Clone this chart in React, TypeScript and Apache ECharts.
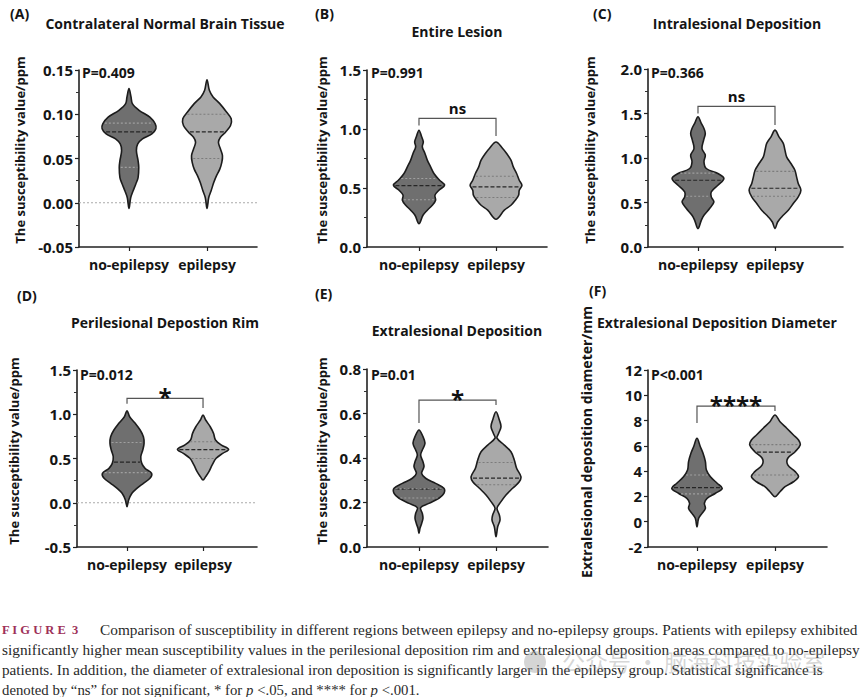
import React, { useEffect, useRef } from "react";
import * as echarts from "echarts";

// ---------- data ----------
const groups = ["no-epilepsy", "epilepsy"];

// violin profiles: [value, relative density] (top tip -> bottom tip)
const aNoEpilepsy = [[0.129, 0], [0.1196, 6], [0.112, 10], [0.1045, 30], [0.0968, 62], [0.0892, 78], [0.0835, 80], [0.0778, 68], [0.0721, 40], [0.0664, 26], [0.0589, 22], [0.0475, 27], [0.0399, 29], [0.0285, 27], [0.0209, 20], [0.0133, 12], [0.0057, 5], [-0.0065, 0]];
const aEpilepsy = [[0.139, 0], [0.1272, 7], [0.1196, 18], [0.112, 38], [0.1025, 58], [0.0949, 72], [0.0873, 70], [0.0797, 55], [0.074, 40], [0.0683, 34], [0.0607, 40], [0.0531, 46], [0.0456, 44], [0.038, 38], [0.0304, 28], [0.0228, 20], [0.0133, 12], [0.0057, 5], [-0.0065, 0]];
const bNoEpilepsy = [[0.99, 0], [0.934, 8], [0.891, 13], [0.849, 10], [0.793, 18], [0.736, 25], [0.679, 35], [0.623, 45], [0.566, 62], [0.524, 77], [0.481, 60], [0.439, 48], [0.396, 50], [0.354, 40], [0.312, 25], [0.269, 12], [0.198, 0]];
const bEpilepsy = [[0.89, 0], [0.835, 20], [0.793, 32], [0.736, 45], [0.679, 52], [0.623, 62], [0.566, 70], [0.524, 78], [0.481, 70], [0.439, 68], [0.396, 58], [0.354, 45], [0.312, 25], [0.235, 0]];
const cNoEpilepsy = [[1.463, 0], [1.389, 10], [1.332, 18], [1.276, 22], [1.201, 17], [1.107, 12], [1.032, 22], [0.957, 18], [0.882, 25], [0.826, 60], [0.77, 78], [0.694, 60], [0.619, 40], [0.563, 40], [0.506, 48], [0.432, 35], [0.357, 18], [0.3, 10], [0.207, 0]];
const cEpilepsy = [[1.313, 0], [1.238, 12], [1.164, 25], [1.088, 30], [1.013, 35], [0.938, 48], [0.863, 60], [0.788, 65], [0.713, 70], [0.638, 78], [0.563, 70], [0.488, 55], [0.413, 40], [0.338, 20], [0.281, 8], [0.207, 0]];
const dNoEpilepsy = [[1.04, 0], [0.972, 8], [0.897, 25], [0.822, 40], [0.746, 50], [0.671, 52], [0.596, 48], [0.52, 42], [0.445, 45], [0.389, 55], [0.333, 75], [0.276, 70], [0.22, 50], [0.163, 30], [0.107, 15], [0.031, 5], [-0.045, 0]];
const dEpilepsy = [[0.99, 0], [0.935, 8], [0.859, 22], [0.784, 32], [0.709, 38], [0.653, 55], [0.603, 78], [0.558, 60], [0.502, 40], [0.427, 28], [0.351, 18], [0.295, 8], [0.257, 0]];
const eNoEpilepsy = [[0.526, 0], [0.496, 12], [0.466, 18], [0.436, 10], [0.413, 5], [0.383, 12], [0.361, 15], [0.331, 8], [0.309, 20], [0.286, 50], [0.264, 75], [0.241, 75], [0.219, 60], [0.196, 30], [0.177, 5], [0.151, 10], [0.129, 12], [0.106, 8], [0.084, 3], [0.061, 0]];
const eEpilepsy = [[0.608, 0], [0.571, 10], [0.541, 15], [0.511, 8], [0.489, 3], [0.458, 25], [0.428, 45], [0.391, 55], [0.354, 62], [0.316, 75], [0.293, 70], [0.264, 50], [0.234, 30], [0.204, 15], [0.174, 3], [0.144, 10], [0.121, 12], [0.091, 5], [0.046, 0]];
const fNoEpilepsy = [[6.6, 0], [5.93, 10], [5.41, 18], [4.75, 25], [4.09, 28], [3.56, 40], [3.04, 60], [2.64, 75], [2.25, 55], [1.85, 30], [1.46, 22], [1.06, 25], [0.66, 15], [0.27, 5], [-0.4, 0]];
const fEpilepsy = [[8.44, 0], [7.91, 15], [7.39, 35], [6.86, 55], [6.46, 70], [6.07, 75], [5.54, 60], [5.02, 38], [4.49, 38], [3.96, 60], [3.56, 70], [3.16, 55], [2.77, 30], [2.37, 15], [1.98, 0]];

// quartiles [Q1, median, Q3]
const aQuartiles = [[0.04, 0.08, 0.09], [0.05, 0.08, 0.1]];
const bQuartiles = [[0.4, 0.52, 0.58], [0.42, 0.51, 0.6]];
const cQuartiles = [[0.57, 0.75, 0.83], [0.57, 0.66, 0.85]];
const dQuartiles = [[0.34, 0.46, 0.68], [0.5, 0.6, 0.69]];
const eQuartiles = [[0.22, 0.26, 0.262], [0.28, 0.31, 0.38]];
const fQuartiles = [[2.2, 2.7, 3.7], [3.7, 5.5, 6.1]];

// significance brackets [top, left leg end, right leg end]
const bBracket = [1.09, 1.03, 0.94];
const cBracket = [1.58, 1.5, 1.37];
const dBracket = [1.18, 1.12, 1.07];
const eBracket = [0.66, 0.557, 0.638];
const fBracket = [9.15, 7.8, 8.76];

// y axis ranges [min, max, interval]
const aYAxis = [-0.05, 0.15, 0.05];
const bYAxis = [0, 1.5, 0.5];
const cYAxis = [0, 2.0, 0.5];
const dYAxis = [-0.5, 1.5, 0.5];
const eYAxis = [0, 0.8, 0.2];
const fYAxis = [-2, 12, 2];

const panelTitles = [
  "Contralateral Normal Brain Tissue",
  "Entire Lesion",
  "Intralesional Deposition",
  "Perilesional Depostion Rim",
  "Extralesional Deposition",
  "Extralesional Deposition Diameter",
];
const panelLetters = ["(A)", "(B)", "(C)", "(D)", "(E)", "(F)"];
const pValues = ["P=0.409", "P=0.991", "P=0.366", "P=0.012", "P=0.01", "P<0.001"];
const significance = ["", "ns", "ns", "*", "*", "****"];
const yNames = [
  "The susceptibility value/ppm",
  "The susceptibility value/ppm",
  "The susceptibility value/ppm",
  "The susceptibility value/ppm",
  "The susceptibility value/ppm",
  "Extralesional deposition diameter/mm",
];

const captionLabel = "F I G U R E\u00a0\u00a03";
const captionLines = [
  "Comparison of susceptibility in different regions between epilepsy and no-epilepsy groups. Patients with epilepsy exhibited",
  "significantly higher mean susceptibility values in the perilesional deposition rim and extralesional deposition areas compared to no-epilepsy",
  "patients. In addition, the diameter of extralesional iron deposition is significantly larger in the epilepsy group. Statistical significance is",
  "denoted by \u201cns\u201d for not significant, * for {i|p} <.05, and **** for {i|p} <.001.",
];
const watermarkText = "公众号 · 脑海科技实验室";

// ---------- layout / style ----------
const FONT = '"Open Sans"';
const FILLS = ["#6f6f6f", "#a9a9a9"];
const QLINE = ["#a0a0a0", "#7c7c7c"];
const DENSITY_FULL = 80;
const HALF_WIDTH_FRAC = 0.345;
const CAPTION_X = [100, 2, 2, 2];
const CAPTION_SCALE = [1.022, 1.022, 1.014, 0.985];

type Panel = {
  profiles: number[][][];
  quartiles: number[][];
  yAxis: number[];
  bracket: number[] | null;
  zeroLine: boolean;
  decimals: number;
  minor: boolean;
  grid: { left: number; top: number; width: number; height: number };
  xRange: number[];
  letterPos: number[];
  titlePos: number[];
  titleAlign: string;
  yNamePos: number[];
  yNameSize: number;
  pPos: number[];
};

const panels: Panel[] = [
  { profiles: [aNoEpilepsy, aEpilepsy], quartiles: aQuartiles, yAxis: aYAxis, bracket: null, zeroLine: true, decimals: 2, minor: true,
    grid: { left: 79, top: 70, width: 178, height: 177 }, xRange: [-0.641, 1.641],
    letterPos: [10, 13], titlePos: [165, 23], titleAlign: "center", yNamePos: [20, 150], yNameSize: 13, pPos: [82, 72] },
  { profiles: [bNoEpilepsy, bEpilepsy], quartiles: bQuartiles, yAxis: bYAxis, bracket: bBracket, zeroLine: false, decimals: 1, minor: true,
    grid: { left: 367, top: 70, width: 180, height: 177 }, xRange: [-0.675, 1.662],
    letterPos: [315, 13], titlePos: [457, 31], titleAlign: "center", yNamePos: [322, 150], yNameSize: 13, pPos: [371, 72] },
  { profiles: [cNoEpilepsy, cEpilepsy], quartiles: cQuartiles, yAxis: cYAxis, bracket: cBracket, zeroLine: false, decimals: 1, minor: true,
    grid: { left: 648, top: 69, width: 195, height: 178 }, xRange: [-0.649, 1.883],
    letterPos: [593, 13], titlePos: [737, 23], titleAlign: "center", yNamePos: [590, 150], yNameSize: 13, pPos: [651, 72] },
  { profiles: [dNoEpilepsy, dEpilepsy], quartiles: dQuartiles, yAxis: dYAxis, bracket: dBracket, zeroLine: true, decimals: 1, minor: true,
    grid: { left: 77, top: 370, width: 180, height: 177 }, xRange: [-0.658, 1.71],
    letterPos: [17, 295], titlePos: [165, 322], titleAlign: "center", yNamePos: [14, 451], yNameSize: 13, pPos: [80, 374] },
  { profiles: [eNoEpilepsy, eEpilepsy], quartiles: eQuartiles, yAxis: eYAxis, bracket: eBracket, zeroLine: false, decimals: 1, minor: true,
    grid: { left: 367, top: 369, width: 181, height: 178 }, xRange: [-0.675, 1.675],
    letterPos: [315, 293], titlePos: [457, 330], titleAlign: "center", yNamePos: [322, 451], yNameSize: 13, pPos: [371, 374] },
  { profiles: [fNoEpilepsy, fEpilepsy], quartiles: fQuartiles, yAxis: fYAxis, bracket: fBracket, zeroLine: false, decimals: 0, minor: false,
    grid: { left: 648, top: 370, width: 179, height: 177 }, xRange: [-0.628, 1.667],
    letterPos: [589, 290], titlePos: [597, 322], titleAlign: "left", yNamePos: [586, 442], yNameSize: 14.1, pPos: [651, 374] },
];

function widthAt(prof: number[][], v: number) {
  for (let i = 0; i < prof.length - 1; i++) {
    const [v0, d0] = prof[i];
    const [v1, d1] = prof[i + 1];
    if ((v <= v0 && v >= v1) || (v >= v0 && v <= v1)) {
      const t = v0 === v1 ? 0 : (v - v0) / (v1 - v0);
      return d0 + (d1 - d0) * t;
    }
  }
  return 0;
}

function buildOption() {
  const grid: any[] = [];
  const xAxis: any[] = [];
  const yAxis: any[] = [];
  const series: any[] = [];
  const graphic: any[] = [];

  panels.forEach((p, i) => {
    grid.push({ ...p.grid });
    xAxis.push({
      gridIndex: i,
      type: "value",
      min: p.xRange[0],
      max: p.xRange[1],
      splitLine: { show: false },
      axisLine: { show: true, onZero: false, lineStyle: { color: "#222", width: 1.6 } },
      axisTick: { show: true, customValues: [0, 1], length: 4, lineStyle: { color: "#222", width: 1.2 } },
      axisLabel: {
        customValues: [0, 1],
        formatter: (v: number) => groups[Math.round(v)] ?? "",
        fontFamily: "Open Sans",
        fontWeight: "bold",
        fontSize: 14,
        color: "#151515",
        margin: 10,
      },
    });
    yAxis.push({
      gridIndex: i,
      type: "value",
      min: p.yAxis[0],
      max: p.yAxis[1],
      interval: p.yAxis[2],
      splitLine: { show: false },
      axisLine: { show: true, onZero: false, lineStyle: { color: "#222", width: 1.6 } },
      axisTick: { show: true, length: 4, lineStyle: { color: "#222", width: 1.2 } },
      minorTick: { show: p.minor, splitNumber: 2, length: 3, lineStyle: { color: "#333", width: 1 } },
      minorSplitLine: { show: false },
      axisLabel: {
        formatter: (v: number) => v.toFixed(p.decimals),
        fontFamily: "Open Sans",
        fontWeight: "bold",
        fontSize: 15,
        color: "#151515",
        margin: 6,
      },
    });

    if (p.zeroLine) {
      series.push({
        type: "line",
        xAxisIndex: i,
        yAxisIndex: i,
        data: [[p.xRange[0], 0], [p.xRange[1], 0]],
        showSymbol: false,
        silent: true,
        z: 1,
        lineStyle: { color: "#aaaaaa", width: 1, type: [2, 2] },
      });
    }

    series.push({
      type: "custom",
      xAxisIndex: i,
      yAxisIndex: i,
      z: 3,
      data: p.quartiles.map((q, gi) => [gi, q[1]]),
      renderItem: (params: any, api: any) => {
        const gi = params.dataIndex;
        const prof = p.profiles[gi];
        const cx = api.coord([gi, p.yAxis[0]])[0];
        const unit = api.size([1, 0])[0];
        const k = (unit * HALF_WIDTH_FRAC) / DENSITY_FULL;
        const right = prof.map(([v, d]) => [cx + d * k, api.coord([gi, v])[1]]);
        const left = prof
          .slice(1, -1)
          .reverse()
          .map(([v, d]) => [cx - d * k, api.coord([gi, v])[1]]);
        const children: any[] = [
          {
            type: "polygon",
            shape: { points: right.concat(left), smooth: 0.35 },
            style: { fill: FILLS[gi], stroke: "#1c1c1c", lineWidth: 1.6 },
          },
        ];
        p.quartiles[gi].forEach((qv, qi) => {
          const hw = Math.max(0, widthAt(prof, qv) * k - 1.5);
          const y = api.coord([gi, qv])[1];
          const isMedian = qi === 1;
          children.push({
            type: "line",
            shape: { x1: cx - hw, y1: y, x2: cx + hw, y2: y },
            style: isMedian
              ? { stroke: "#262626", lineWidth: 1.2, lineDash: [4, 2] }
              : { stroke: QLINE[gi], lineWidth: 1.1, lineDash: [2, 2] },
          });
        });
        return { type: "group", children };
      },
    });

    if (p.bracket) {
      const b = p.bracket;
      const label = significance[i];
      series.push({
        type: "custom",
        xAxisIndex: i,
        yAxisIndex: i,
        z: 4,
        data: [[0.5, b[0]]],
        renderItem: (_params: any, api: any) => {
          const tl = api.coord([0, b[0]]);
          const tr = api.coord([1, b[0]]);
          const yl = api.coord([0, b[1]])[1];
          const yr = api.coord([1, b[2]])[1];
          const star = label.indexOf("*") >= 0;
          return {
            type: "group",
            children: [
              {
                type: "polyline",
                shape: { points: [[tl[0], yl], [tl[0], tl[1]], [tr[0], tr[1]], [tr[0], yr]] },
                style: { stroke: "#555", lineWidth: 1.2, fill: null },
              },
              {
                type: "text",
                x: (tl[0] + tr[0]) / 2,
                y: star ? tl[1] - 2 : tl[1] - 10,
                style: {
                  text: label,
                  font: star ? `bold 24px ${FONT}` : `bold 15px ${FONT}`,
                  fill: "#111",
                  textAlign: "center",
                  textVerticalAlign: "middle",
                },
              },
            ],
          };
        },
      });
    }

    graphic.push(
      {
        type: "text",
        x: p.letterPos[0],
        y: p.letterPos[1],
        style: { text: panelLetters[i], font: `bold 14px ${FONT}`, fill: "#151515", textAlign: "left", textVerticalAlign: "middle" },
      },
      {
        type: "text",
        x: p.titlePos[0],
        y: p.titlePos[1],
        style: { text: panelTitles[i], font: `bold 14px ${FONT}`, fill: "#151515", textAlign: p.titleAlign, textVerticalAlign: "middle" },
      },
      {
        type: "text",
        x: p.yNamePos[0],
        y: p.yNamePos[1],
        rotation: Math.PI / 2,
        style: { text: yNames[i], font: `bold ${p.yNameSize}px ${FONT}`, fill: "#151515", textAlign: "center", textVerticalAlign: "middle" },
      },
      {
        type: "text",
        x: p.pPos[0],
        y: p.pPos[1],
        style: { text: pValues[i], font: `bold 14px ${FONT}`, fill: "#151515", textAlign: "left", textVerticalAlign: "middle" },
      }
    );
  });

  // caption
  graphic.push({
    type: "text",
    x: 2,
    y: 630,
    style: {
      text: captionLabel,
      font: 'bold 12.5px "Liberation Serif"',
      fill: "#9e3158",
      textAlign: "left",
      textVerticalAlign: "middle",
    },
  });
  captionLines.forEach((line, li) => {
    graphic.push({
      type: "text",
      x: CAPTION_X[li],
      y: 630 + li * 20,
      scaleX: CAPTION_SCALE[li],
      style: {
        text: line,
        font: '15px "Liberation Serif"',
        fill: "#2a2a2a",
        textAlign: "left",
        textVerticalAlign: "middle",
        rich: { i: { fontStyle: "italic", fontSize: 15, fontFamily: "Liberation Serif", fill: "#2a2a2a" } },
      },
    });
  });
  // watermark
  graphic.push(
    { type: "circle", shape: { cx: 535, cy: 662, r: 11 }, style: { fill: "rgba(150,150,150,0.4)" } },
    {
      type: "text",
      x: 562,
      y: 661,
      style: {
        text: watermarkText,
        font: '23px "Noto Sans CJK SC"',
        fill: "rgba(150,150,150,0.4)",
        textAlign: "left",
        textVerticalAlign: "middle",
      },
    }
  );

  return {
    animation: false,
    backgroundColor: "#ffffff",
    grid,
    xAxis,
    yAxis,
    series,
    graphic,
  };
}

export default function App() {
  const ref = useRef<HTMLDivElement>(null);
  useEffect(() => {
    const chart = echarts.init(ref.current!, null, { renderer: "svg" });
    chart.setOption(buildOption() as any);
    return () => chart.dispose();
  }, []);
  return (
    <div
      ref={ref}
      style={{ position: "fixed", left: 0, top: 0, width: 865, height: 697, background: "#fff" }}
    />
  );
}
